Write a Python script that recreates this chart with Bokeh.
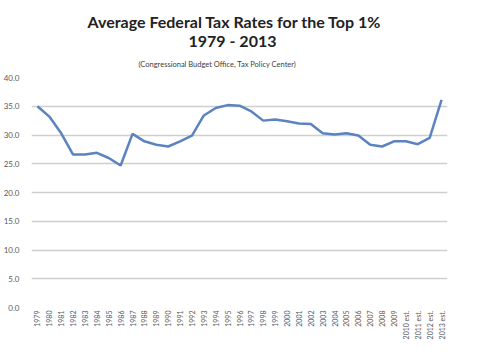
import math
from bokeh.plotting import figure
from bokeh.models import Title, NumeralTickFormatter, FixedTicker, Range1d
from bokeh.embed import file_html
from bokeh.resources import INLINE

years = [str(y) for y in range(1979, 2010)] + ["2010 est.", "2011 est.", "2012 est.", "2013 est."]
rates = [35.0, 33.2, 30.3, 26.6, 26.6, 26.9, 26.0, 24.7, 30.2, 28.9,
         28.3, 28.0, 28.9, 29.9, 33.4, 34.7, 35.2, 35.1, 34.1, 32.5,
         32.7, 32.4, 32.0, 31.9, 30.3, 30.1, 30.3, 29.9, 28.3, 28.0,
         28.9, 28.9, 28.4, 29.5, 36.1]
y_ticks = [0, 5, 10, 15, 20, 25, 30, 35, 40]

p = figure(x_range=years, y_range=Range1d(0, 40), width=466, height=342,
           output_backend="svg", toolbar_location=None,
           min_border_left=27, min_border_right=19, min_border_top=0, min_border_bottom=0)
p.outline_line_color = None
p.background_fill_color = "white"
p.border_fill_color = "white"

p.line(years, rates, line_color="#5b83bf", line_width=2.5)

p.add_layout(Title(text="(Congressional Budget Office, Tax Policy Center)", align="left",
                   text_font="Lato", text_font_size="7.5px", text_font_style="normal",
                   text_color="#404040", offset=107, standoff=18), "above")
p.add_layout(Title(text="1979 - 2013", align="left",
                   text_font="Lato", text_font_size="16px", text_font_style="bold",
                   text_color="#222222", offset=157, standoff=-3), "above")
p.add_layout(Title(text="Average Federal Tax Rates for the Top 1%", align="left",
                   text_font="Lato", text_font_size="16px", text_font_style="bold",
                   text_color="#222222", offset=56, standoff=0), "above")
p.add_layout(Title(text=" ", text_font_size="7px", standoff=0), "above")

p.yaxis.ticker = FixedTicker(ticks=y_ticks)
p.yaxis.formatter = NumeralTickFormatter(format="0.0")
p.yaxis.axis_line_color = None
p.yaxis.major_tick_line_color = None
p.yaxis.minor_tick_line_color = None
p.yaxis.major_label_text_font = "Lato"
p.yaxis.major_label_text_font_size = "8px"
p.yaxis.major_label_text_color = "#595959"
p.yaxis.major_label_standoff = 6

p.xaxis.axis_line_color = None
p.xaxis.major_tick_line_color = None
p.xaxis.major_tick_out = 0
p.xaxis.major_tick_in = 0
p.xaxis.axis_label_standoff = 0
p.xaxis.major_label_orientation = math.pi / 2
p.xaxis.major_label_text_font = "Lato"
p.xaxis.major_label_text_font_size = "7px"
p.xaxis.major_label_text_color = "#595959"
p.xaxis.major_label_standoff = 3

p.xgrid.grid_line_color = None
p.ygrid.ticker = FixedTicker(ticks=y_ticks)
p.ygrid.grid_line_color = "#cfcfcf"
p.ygrid.grid_line_width = 1.5

open("out.html", "w").write(file_html(p, INLINE))
